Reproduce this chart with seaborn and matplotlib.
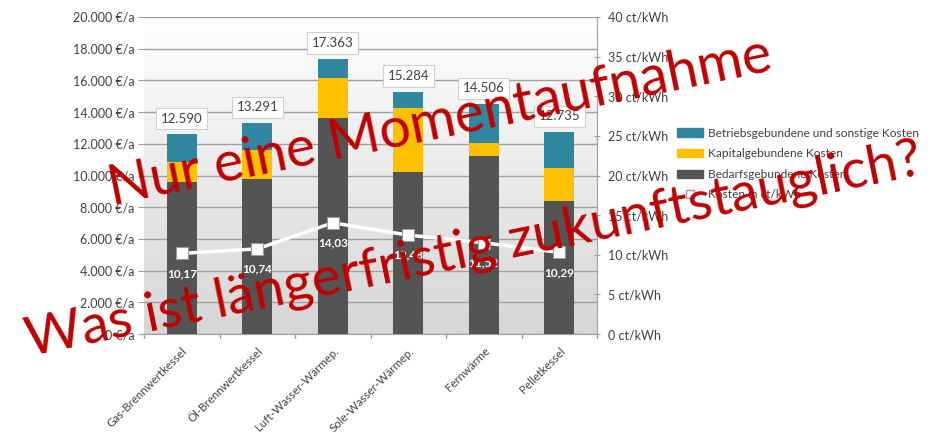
import numpy as np
import pandas as pd
import matplotlib
matplotlib.use("Agg")
import matplotlib.pyplot as plt
from matplotlib.patches import Patch
from matplotlib.lines import Line2D
import seaborn as sns

categories = ["Gas-Brennwertkessel", "Öl-Brennwertkessel", "Luft-Wasser-Wärmep.",
              "Sole-Wasser-Wärmep.", "Fernwärme", "Pelletkessel"]
bedarf = [9560, 9750, 13650, 10250, 11260, 8360]
kapital = [1320, 1880, 2510, 4030, 820, 2140]
totals = [12590, 13291, 17363, 15284, 14506, 12735]
ct_kwh = [10.17, 10.74, 14.03, 12.48, 11.52, 10.29]
left_ticks = [0, 2000, 4000, 6000, 8000, 10000, 12000, 14000, 16000, 18000, 20000]
right_ticks = [0, 5, 10, 15, 20, 25, 30, 35, 40]
legend_labels = ["Betriebsgebundene und sonstige Kosten", "Kapitalgebundene Kosten",
                 "Bedarfsgebundene Kosten", "Kosten in ct/kWh"]

C_TEAL = "#2f87a0"
C_YEL = "#ffc000"
C_DARK = "#545454"
C_TXT = "#404040"

sns.set_style("white")
plt.rcParams["font.family"] = ["Lato", "DejaVu Sans"]

df = pd.DataFrame({"cat": categories, "bedarf": bedarf, "kapital": kapital,
                   "total": totals, "ct": ct_kwh})
df["bk"] = df["bedarf"] + df["kapital"]

fig = plt.figure(figsize=(9.38, 4.33), dpi=100)
ax = fig.add_axes([144/938, 1-334/433, (597-144)/938, (334-17)/433])

# gradient background: white at top, light grey at bottom
grad = np.linspace(0, 1, 256).reshape(-1, 1)
cmap = matplotlib.colors.LinearSegmentedColormap.from_list("g", ["#ffffff", "#d6d6d6"])
ax.imshow(grad, extent=[0, 1, 0, 1], origin="upper", transform=ax.transAxes,
          cmap=cmap, aspect="auto", zorder=0)

for col, c in [("total", C_TEAL), ("bk", C_YEL), ("bedarf", C_DARK)]:
    sns.barplot(data=df, x="cat", y=col, color=c, width=0.4, ax=ax,
                saturation=1, zorder=3, linewidth=0)

ax.set_ylim(0, 20000)
ax.set_xlim(-0.5, 5.5)
ax.set_yticks(left_ticks)
ax.set_yticklabels([f"{v:,.0f} €/a".replace(",", ".") for v in left_ticks],
                   fontsize=9, color=C_TXT)
ax.grid(axis="y", color="#a0a0a0", linewidth=1, zorder=1)
ax.set_axisbelow(True)
ax.set_xlabel("")
ax.set_ylabel("")
ax.set_xticks(range(len(categories)))
ax.set_xticklabels(categories, rotation=45, ha="right", rotation_mode="anchor",
                   fontsize=8.3, color=C_TXT)
ax.tick_params(axis="x", length=0, pad=8)
ax.tick_params(axis="y", length=4, color="#a0a0a0", pad=3)
for s in ["top", "left", "right"]:
    ax.spines[s].set_visible(False)
ax.spines["bottom"].set_color("#a0a0a0")
for xb in np.arange(-0.5, 6, 1):
    ax.plot([xb, xb], [0, -250], color="#a0a0a0", lw=1, clip_on=False, zorder=2)

for i, t in enumerate(totals):
    ax.text(i, t + 1000, f"{t:,}".replace(",", "."), ha="center", va="center",
            fontsize=9.5, color=C_TXT, zorder=6,
            bbox=dict(boxstyle="square,pad=0.35", fc="white", ec="#d0d0d0", lw=0.8))

ax2 = ax.twinx()
sns.lineplot(x=np.arange(len(categories)), y=ct_kwh, ax=ax2, color="white", lw=2.5,
             marker="s", markersize=8, markerfacecolor="white",
             markeredgecolor="#9a9a9a", markeredgewidth=0.8, zorder=5)
ax2.set_ylim(0, 40)
ax2.set_xlim(-0.5, 5.5)
ax2.set_yticks(right_ticks)
ax2.set_yticklabels([f"{v} ct/kWh" for v in right_ticks], fontsize=9, color=C_TXT)
ax2.tick_params(axis="y", length=4, color="#a0a0a0", direction="inout", pad=6)
for s in ["top", "left", "bottom"]:
    ax2.spines[s].set_visible(False)
ax2.spines["right"].set_color("#a0a0a0")
for i, v in enumerate(ct_kwh):
    ax2.annotate(f"{v:.2f}".replace(".", ","), (i, v), xytext=(0, -14.5),
                 textcoords="offset points", ha="center", va="center",
                 fontsize=8.5, fontweight="bold", color="white", zorder=6)

handles = [Patch(color=C_TEAL), Patch(color=C_YEL), Patch(color=C_DARK),
           Line2D([], [], color="white", lw=2.5, marker="s", markersize=6,
                  markerfacecolor="white", markeredgecolor="#9a9a9a")]
fig.legend(handles, legend_labels, loc="upper left",
           bbox_to_anchor=(666/938, 1-117/433), frameon=False, fontsize=8.6,
           labelcolor=C_TXT, handlelength=2.2, handleheight=0.7,
           labelspacing=0.8, handletextpad=0.4)

red = "#c00000"
fig.text(440/938, 1-122/433, "Nur eine Momentaufnahme", rotation=11.5,
         rotation_mode="anchor", ha="center", va="center", fontsize=40,
         color=red, zorder=20)
fig.text(474/938, 1-250/433, "Was ist längerfristig zukunftstauglich?", rotation=11.5,
         rotation_mode="anchor", ha="center", va="center", fontsize=39.5,
         color=red, zorder=20)

fig.savefig("out.png", dpi=100)
